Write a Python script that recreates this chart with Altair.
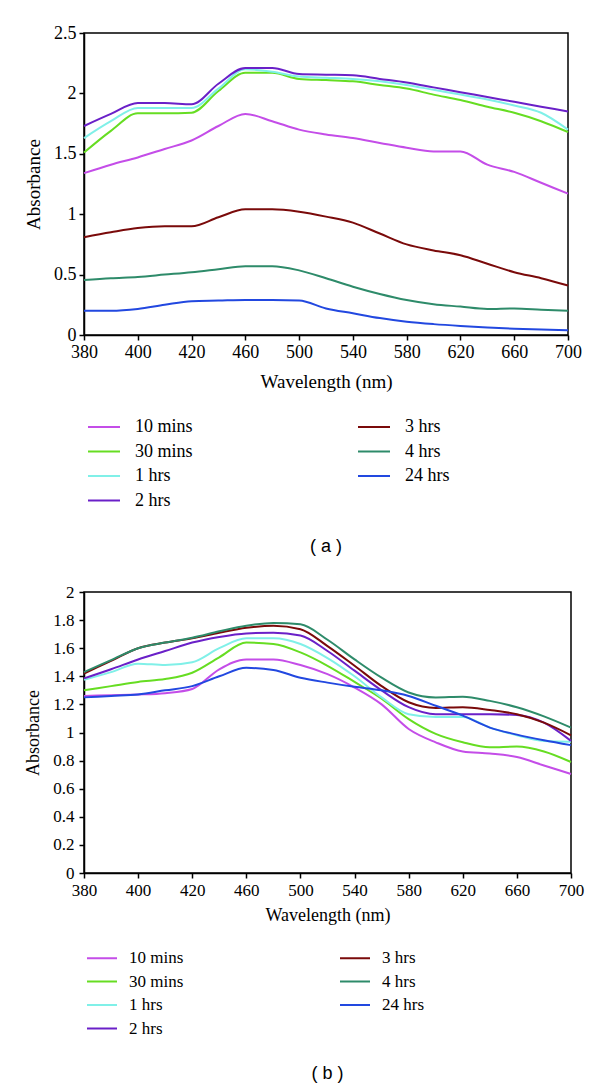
import altair as alt
import pandas as pd

# ---------------- data ----------------
wavelengths = [380, 390, 400, 410, 420, 440, 460, 480, 500, 520, 540, 560, 580, 600, 620, 640, 660, 680, 700]
series_names = ["10 mins", "30 mins", "1 hrs", "2 hrs", "3 hrs", "4 hrs", "24 hrs"]
series_colors = ["#C44DE8", "#66DD22", "#80F0E8", "#6A20C8", "#7A0A0A", "#2E8B6A", "#2248E0"]

# panel (a)
a_10min = [1.34, 1.41, 1.47, 1.54, 1.61, 1.73, 1.83, 1.77, 1.70, 1.66, 1.63, 1.59, 1.55, 1.52, 1.52, 1.41, 1.35, 1.26, 1.17]
a_30min = [1.51, 1.69, 1.835, 1.835, 1.84, 2.02, 2.17, 2.17, 2.12, 2.11, 2.10, 2.07, 2.04, 1.99, 1.945, 1.89, 1.84, 1.77, 1.68]
a_1hr = [1.63, 1.77, 1.88, 1.88, 1.88, 2.04, 2.20, 2.18, 2.14, 2.13, 2.12, 2.10, 2.07, 2.03, 1.99, 1.95, 1.90, 1.84, 1.70]
a_2hr = [1.73, 1.83, 1.92, 1.92, 1.91, 2.08, 2.21, 2.21, 2.16, 2.155, 2.15, 2.12, 2.09, 2.05, 2.01, 1.97, 1.93, 1.89, 1.85]
a_3hr = [0.81, 0.85, 0.885, 0.90, 0.90, 0.975, 1.04, 1.04, 1.02, 0.98, 0.93, 0.84, 0.75, 0.70, 0.66, 0.59, 0.52, 0.47, 0.41]
a_4hr = [0.455, 0.47, 0.48, 0.50, 0.52, 0.545, 0.57, 0.57, 0.535, 0.47, 0.40, 0.34, 0.29, 0.255, 0.235, 0.215, 0.22, 0.21, 0.20]
a_24hr = [0.20, 0.20, 0.215, 0.25, 0.28, 0.285, 0.29, 0.29, 0.285, 0.22, 0.18, 0.14, 0.11, 0.09, 0.075, 0.063, 0.052, 0.045, 0.04]

# panel (b)
b_10min = [1.26, 1.265, 1.27, 1.28, 1.31, 1.45, 1.52, 1.52, 1.48, 1.415, 1.32, 1.20, 1.025, 0.93, 0.865, 0.85, 0.825, 0.765, 0.705]
b_30min = [1.30, 1.33, 1.36, 1.38, 1.425, 1.535, 1.64, 1.63, 1.57, 1.475, 1.36, 1.24, 1.095, 0.99, 0.93, 0.895, 0.90, 0.865, 0.79]
b_1hr = [1.375, 1.43, 1.49, 1.48, 1.50, 1.60, 1.67, 1.67, 1.63, 1.53, 1.40, 1.25, 1.13, 1.11, 1.11, 1.035, 0.98, 0.94, 0.935]
b_2hr = [1.385, 1.45, 1.52, 1.58, 1.64, 1.68, 1.705, 1.71, 1.69, 1.58, 1.44, 1.30, 1.18, 1.13, 1.13, 1.13, 1.125, 1.07, 0.94]
b_3hr = [1.42, 1.51, 1.60, 1.64, 1.67, 1.71, 1.745, 1.76, 1.735, 1.615, 1.475, 1.33, 1.215, 1.175, 1.18, 1.16, 1.13, 1.07, 0.98]
b_4hr = [1.43, 1.515, 1.60, 1.64, 1.675, 1.72, 1.76, 1.78, 1.77, 1.66, 1.52, 1.39, 1.285, 1.25, 1.255, 1.225, 1.18, 1.115, 1.035]
b_24hr = [1.25, 1.26, 1.27, 1.30, 1.33, 1.40, 1.46, 1.445, 1.39, 1.355, 1.325, 1.30, 1.26, 1.19, 1.12, 1.035, 0.985, 0.945, 0.91]

x_ticks = [380, 400, 420, 460, 500, 540, 580, 620, 660, 700]
ya_ticks = [0, 0.5, 1, 1.5, 2, 2.5]
yb_ticks = [0, 0.2, 0.4, 0.6, 0.8, 1, 1.2, 1.4, 1.6, 1.8, 2]

SERIF = "Liberation Serif"
SANS = "Liberation Sans"


def make_df(series_values):
    rows = []
    for name, vals in zip(series_names, series_values):
        for w, v in zip(wavelengths, vals):
            rows.append({"wl": w, "val": v, "series": name})
    return pd.DataFrame(rows)


def panel(df, width, height, yticks, ymax, caption, tick_fs, title_fs, leg_fs,
          sym_size, leg_x, leg_y, label_off, row_pad, col_pad, cap_off,
          x_lab_pad, x_title_pad, y_lab_pad, y_title_pad):
    step = width / (len(x_ticks) - 1)
    xscale = alt.Scale(type="linear", domain=x_ticks,
                       range=[i * step for i in range(len(x_ticks))], nice=False)
    return alt.Chart(df).mark_line(interpolate="monotone", strokeWidth=2).encode(
        x=alt.X("wl:Q", scale=xscale,
                axis=alt.Axis(values=x_ticks, title="Wavelength (nm)", labelFontSize=tick_fs,
                              titleFontSize=title_fs, labelPadding=x_lab_pad,
                              titlePadding=x_title_pad, labelFlush=False)),
        y=alt.Y("val:Q", scale=alt.Scale(domain=[0, ymax], nice=False),
                axis=alt.Axis(values=yticks, title="Absorbance", labelExpr="'' + datum.value",
                              labelFontSize=tick_fs, titleFontSize=title_fs,
                              labelPadding=y_lab_pad, titlePadding=y_title_pad)),
        color=alt.Color("series:N",
                        scale=alt.Scale(domain=series_names, range=series_colors),
                        legend=alt.Legend(orient="none", legendX=leg_x, legendY=leg_y,
                                          columns=2, title=None,
                                          symbolType="M-2,0L2,0", symbolSize=sym_size,
                                          symbolStrokeWidth=2, labelOffset=label_off,
                                          labelFont=SERIF, labelFontSize=leg_fs,
                                          labelColor="black", rowPadding=row_pad,
                                          columnPadding=col_pad, labelLimit=300)),
        detail="series:N",
    ).properties(
        width=width, height=height,
        title=alt.TitleParams(caption, orient="bottom", anchor="middle", frame="group",
                              font=SANS, fontSize=18, fontWeight="normal",
                              color="black", offset=cap_off),
    )


df_a = make_df([a_10min, a_30min, a_1hr, a_2hr, a_3hr, a_4hr, a_24hr])
df_b = make_df([b_10min, b_30min, b_1hr, b_2hr, b_3hr, b_4hr, b_24hr])

chart_a = panel(df_a, 484, 302, ya_ticks, 2.5, "( a )", 18, 19, 18,
                256, 11, 385, 22, 6.5, 161, 28, 3, 11, 3, 10)
chart_b = panel(df_b, 487, 281, yb_ticks, 2, "( b )", 17, 18, 17,
                225, 9.5, 357.5, 18.5, 5.5, 152, 28, 4, 8, 5, 10)

chart = alt.vconcat(chart_a, chart_b, spacing=25).resolve_scale(
    color="independent"
).resolve_legend(
    color="independent"
).properties(
    padding={"top": 15, "left": 15, "right": 5, "bottom": 5}
).configure(
    background="white"
).configure_view(
    stroke="black", strokeWidth=1.5
).configure_axis(
    grid=False, domainColor="black", domainWidth=1.5, tickColor="black",
    tickSize=5, tickWidth=1.5, labelColor="black", titleColor="black",
    labelFont=SERIF, titleFont=SERIF, titleFontWeight="normal"
).configure_legend(
    labelFont=SERIF, labelColor="black"
)

chart.save("out.html", embed_options={"renderer": "svg", "actions": False})
